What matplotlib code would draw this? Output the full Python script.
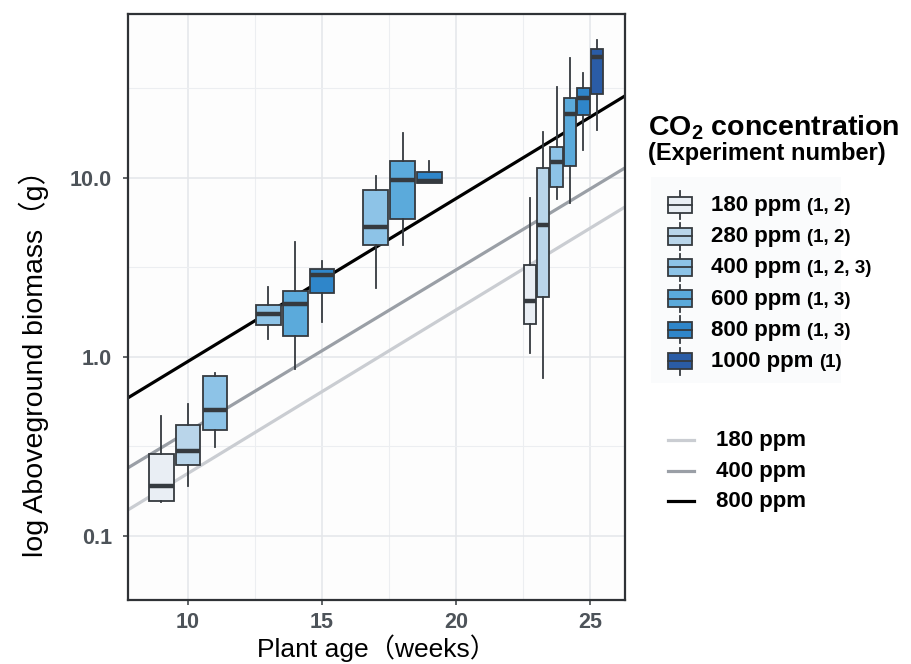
import matplotlib
matplotlib.use('Agg')
import matplotlib.pyplot as plt
from matplotlib.patches import Rectangle
from matplotlib.lines import Line2D
from matplotlib.ticker import FixedLocator, NullFormatter
import numpy as np

plt.rcParams['font.family'] = ['Liberation Sans', 'Noto Sans CJK SC', 'DejaVu Sans']
plt.rcParams['mathtext.fontset'] = 'custom'
plt.rcParams['mathtext.rm'] = 'Liberation Sans'
plt.rcParams['mathtext.bf'] = 'Liberation Sans:bold'

# CO2 levels and their colours / experiment numbers
ppm_levels = [180, 280, 400, 600, 800, 1000]
ppm_fill = ['#E9EEF4', '#B9D5EA', '#8DC3E7', '#5BAADB', '#2F86CA', '#2A5CA6']
ppm_exp = ['(1, 2)', '(1, 2)', '(1, 2, 3)', '(1, 3)', '(1, 3)', '(1)']

# sampling ages (weeks) and the CO2 levels measured at each
ages = [10, 14, 18, 24]
age_ppm = [[180, 280, 400],
           [400, 600, 800],
           [400, 600, 800],
           [180, 280, 400, 600, 800, 1000]]

# box stats (g): whisker low, q1, median, q3, whisker high
whis_lo = [[0.154, 0.191, 0.315], [1.26, 0.857, 1.57], [2.42, 4.22, 9.41],
           [1.05, 0.766, 7.6, 7.28, 14.3, 18.5]]
q1 = [[0.157, 0.249, 0.391], [1.50, 1.30, 2.27], [4.21, 5.88, 9.41],
      [1.52, 2.17, 8.94, 11.6, 22.5, 29.4]]
med = [[0.190, 0.296, 0.506], [1.73, 1.98, 2.85], [5.35, 9.74, 9.62],
       [2.06, 5.46, 12.2, 22.7, 27.9, 47.2]]
q3 = [[0.287, 0.417, 0.783], [1.94, 2.33, 3.10], [8.57, 12.4, 10.8],
      [3.27, 11.3, 14.96, 27.9, 31.9, 52.6]]
whis_hi = [[0.47, 0.546, 0.814], [2.47, 4.41, 3.44], [10.2, 17.8, 12.5],
           [7.7, 18.1, 32.4, 46.6, 38.5, 59.0]]

# fitted log10(biomass) = a + b * age
fit_ppm = [180, 400, 800]
fit_a = [-1.5635, -1.3215, -0.935]
fit_b = [0.0913, 0.0904, 0.091]
fit_color = ['#CACDD2', '#9A9FA6', '#000000']

W, H = 912, 664
fig = plt.figure(figsize=(W / 100, H / 100), dpi=100)
ax = fig.add_axes([128 / W, 1 - 600 / H, 497 / W, 586 / H])
ax.set_facecolor('#FDFDFD')

def px(x, y):
    return (x / W, 1 - y / H)

ax.set_xlim(7.76, 26.3)
ax.set_yscale('log')
ax.set_ylim(0.0438, 82.4)

# regression lines
xs = np.array(ax.get_xlim())
for a, b, c in zip(fit_a, fit_b, fit_color):
    ax.plot(xs, 10 ** (a + b * xs), color=c, lw=2.3, zorder=2, solid_capstyle='butt')

# dodged boxplots
edge = '#353A3F'
for g, age in enumerate(ages):
    n = len(age_ppm[g])
    slot = 3.0 / n
    stats, pos, cols = [], [], []
    for i, p in enumerate(age_ppm[g]):
        stats.append(dict(whislo=whis_lo[g][i], q1=q1[g][i], med=med[g][i],
                          q3=q3[g][i], whishi=whis_hi[g][i]))
        pos.append(age + (i - (n - 1) / 2) * slot)
        cols.append(ppm_fill[ppm_levels.index(p)])
    bp = ax.bxp(stats, positions=pos, widths=slot * 0.92, patch_artist=True,
                showfliers=False, showcaps=False, manage_ticks=False, zorder=3,
                boxprops=dict(edgecolor=edge, linewidth=1.3),
                whiskerprops=dict(color=edge, linewidth=1.3),
                medianprops=dict(color=edge, linewidth=3.2, solid_capstyle='butt'))
    for patch, c in zip(bp['boxes'], cols):
        patch.set_facecolor(c)

# axes styling
ax.xaxis.set_major_locator(FixedLocator([10, 15, 20, 25]))
ax.xaxis.set_minor_locator(FixedLocator([12.5, 17.5, 22.5]))
ax.yaxis.set_major_locator(FixedLocator([0.1, 1, 10]))
ax.yaxis.set_minor_locator(FixedLocator([10 ** -0.5, 10 ** 0.5, 10 ** 1.5]))
ax.yaxis.set_minor_formatter(NullFormatter())
ax.set_yticklabels(['0.1', '1.0', '10.0'])
ax.grid(which='major', color='#E4E6EA', lw=1.1, zorder=0)
ax.grid(which='minor', color='#ECEEF1', lw=0.8, zorder=0)
ax.set_axisbelow(True)
ax.tick_params(which='major', length=3.5, width=1.1, color='#353A3F', pad=8,
               labelsize=15.5, labelcolor='#4D5359')
ax.tick_params(axis='x', which='major', pad=5)
ax.tick_params(which='minor', length=0)
for lab in ax.get_xticklabels() + ax.get_yticklabels():
    lab.set_fontweight('bold')
for s in ax.spines.values():
    s.set_color('#2F3236')
    s.set_linewidth(1.6)

ax.set_xlabel('Plant age（weeks）', fontsize=19)
ax.set_ylabel('log Aboveground biomass（g）', fontsize=20.5)
ax.xaxis.set_label_coords(0.5, -0.059)
ax.yaxis.set_label_coords(-0.158, 0.415)

# legend: box keys
fig.add_artist(Rectangle(px(651, 383), 190 / W, 206 / H, transform=fig.transFigure,
                         facecolor='#FAFBFC', edgecolor='none', zorder=0))
fig.text(*px(648, 135), r'CO$_\mathbf{2}$ concentration', fontsize=20.5,
         fontweight='bold', va='baseline')
fig.text(*px(648, 160), '(Experiment number)', fontsize=17,
         fontweight='bold', va='baseline')
renderer = fig.canvas.get_renderer()
for i, (p, c, e) in enumerate(zip(ppm_levels, ppm_fill, ppm_exp)):
    yc = 205 + i * 31.2
    bx, by = px(668, yc + 8.3)
    fig.add_artist(Rectangle((bx, by), 24 / W, 16.6 / H, transform=fig.transFigure,
                             facecolor=c, edgecolor=edge, lw=1.3, zorder=3))
    for y0, y1 in [(yc - 13.5, yc - 8.3), (yc + 8.3, yc + 13.5)]:
        fig.add_artist(Line2D([680 / W, 680 / W], [1 - y0 / H, 1 - y1 / H],
                              transform=fig.transFigure, color=edge, lw=1.3))
    fig.add_artist(Line2D([668 / W, 692 / W], [1 - yc / H] * 2,
                          transform=fig.transFigure, color=edge, lw=1.3, zorder=4))
    t = fig.text(*px(711, yc + 6), f'{p} ppm', fontsize=16, fontweight='bold',
                 va='baseline')
    x1 = t.get_window_extent(renderer).x1
    fig.text(x1 / W + 6 / W, 1 - (yc + 6) / H, e, fontsize=13.5,
             fontweight='bold', va='baseline')

# legend: fitted lines
for i, (p, c) in enumerate(zip(fit_ppm, fit_color)):
    yc = 440 + i * 30.5
    fig.add_artist(Line2D([668 / W, 694 / W], [1 - yc / H] * 2,
                          transform=fig.transFigure, color=c, lw=2.3))
    fig.text(*px(716, yc + 6), f'{p} ppm', fontsize=16, fontweight='bold',
             va='baseline')

fig.savefig('out.png', dpi=100)
plt.close(fig)
